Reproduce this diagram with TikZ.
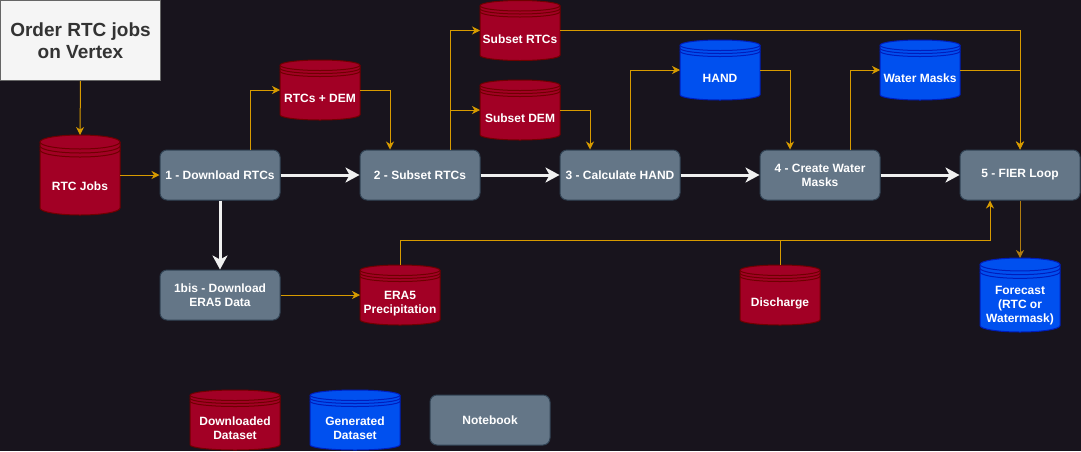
\documentclass[tikz,border=0pt]{standalone}
\usepackage{fontspec}
\setmainfont{Liberation Sans}
\usetikzlibrary{arrows.meta}
\definecolor{bgcol}{HTML}{18141D}
\definecolor{redfill}{HTML}{A20025}
\definecolor{redstroke}{HTML}{6F0000}
\definecolor{bluefill}{HTML}{0050EF}
\definecolor{bluestroke}{HTML}{001DBC}
\definecolor{boxfill}{HTML}{647687}
\definecolor{boxstroke}{HTML}{314354}
\definecolor{titlefill}{HTML}{F5F5F5}
\definecolor{titlestroke}{HTML}{666666}
\definecolor{titletext}{HTML}{333333}
\definecolor{orangeline}{HTML}{D79B00}
\definecolor{darkorange}{HTML}{B07D10}
\definecolor{whiteline}{HTML}{F0F0F0}
\tikzset{
  flowbox/.style={rectangle, rounded corners=7pt, draw=boxstroke, fill=boxfill, line width=1pt,
    minimum width=120pt, minimum height=50pt, text=white,
    font=\bfseries\fontsize{12}{14}\selectfont, align=center, inner sep=2pt},
  redstore/.style={draw=redstroke, fill=redfill, line width=1pt},
  bluestore/.style={draw=bluestroke, fill=bluefill, line width=1pt},
  dbtext/.style={text=white, font=\bfseries\fontsize{12}{14}\selectfont, align=center, inner sep=0pt},
  flowarrow/.style={draw=orangeline, line width=1pt, -{Stealth[length=8pt,width=8pt,inset=2.5pt]}},
  flowline/.style={draw=orangeline, line width=1pt},
  mainarrow/.style={draw=whiteline, line width=3pt, -{Stealth[length=14pt,width=15pt,inset=4pt]}},
}
% #1 name, #2 x0, #3 y0, #4 w, #5 h, #6 style, #7 text
\newcommand\dbnode[7]{%
  \pgfmathsetmacro\dxa{#2}\pgfmathsetmacro\dxb{#2+#4}\pgfmathsetmacro\dxc{#2+#4/2}%
  \pgfmathsetmacro\dya{#3}\pgfmathsetmacro\dyb{#3+#5}%
  \pgfmathsetmacro\dry{0.0875*#5}\pgfmathsetmacro\dkx{0.5523*#4/2}\pgfmathsetmacro\dky{0.5523*\dry}%
  \pgfmathsetmacro\dst{0.05*#5}%
  \node[minimum width=#4pt, minimum height=#5pt, inner sep=0pt, outer sep=0pt] (#1) at (\dxc, #3+#5/2) {};
  \draw[#6] (\dxa,\dya+\dry) .. controls (\dxa,\dya+\dry-\dky) and (\dxc-\dkx,\dya) .. (\dxc,\dya)
    .. controls (\dxc+\dkx,\dya) and (\dxb,\dya+\dry-\dky) .. (\dxb,\dya+\dry)
    -- (\dxb,\dyb-\dry) .. controls (\dxb,\dyb-\dry+\dky) and (\dxc+\dkx,\dyb) .. (\dxc,\dyb)
    .. controls (\dxc-\dkx,\dyb) and (\dxa,\dyb-\dry+\dky) .. (\dxa,\dyb-\dry) -- cycle;
  \foreach \k in {0,1,2}{%
    \draw[#6,fill=none] (\dxa,\dya+\dry+\k*\dst) .. controls (\dxa,\dya+\dry+\k*\dst+\dky) and (\dxc-\dkx,\dya+2*\dry+\k*\dst) .. (\dxc,\dya+2*\dry+\k*\dst)
      .. controls (\dxc+\dkx,\dya+2*\dry+\k*\dst) and (\dxb,\dya+\dry+\k*\dst+\dky) .. (\dxb,\dya+\dry+\k*\dst);
  }
  \node[dbtext] (#1-t) at (\dxc, #3+0.64*#5) {#7};
}
\begin{document}
\begin{tikzpicture}[x=1pt,y=-1pt]
\fill[bgcol] (0,0) rectangle (1081,451);
\useasboundingbox (0,0) rectangle (1081,451);

% title
\node[draw=titlestroke, fill=titlefill, line width=1pt, minimum width=160pt, minimum height=80pt,
  text=titletext, font=\bfseries\fontsize{19}{22}\selectfont, align=center, inner sep=0pt]
  (title) at (80.5,40.5) {Order RTC jobs\\on Vertex};

% data stores
\dbnode{rtcjobs}{40}{135}{80}{80}{redstore}{RTC Jobs}
\dbnode{rtcdem}{280}{60}{80}{60}{redstore}{RTCs + DEM}
\dbnode{srtc}{480}{0.5}{80}{60}{redstore}{Subset RTCs}
\dbnode{sdem}{480}{80}{80}{60}{redstore}{Subset DEM}
\dbnode{hand}{680}{40}{80}{60}{bluestore}{HAND}
\dbnode{wmask}{880}{40}{80}{60}{bluestore}{Water Masks}
\dbnode{era}{360}{265}{80}{60}{redstore}{ERA5\\Precipitation}
\dbnode{dis}{740}{265}{80}{60}{redstore}{Discharge}
\dbnode{fcst}{980}{258}{80}{74}{bluestore}{Forecast\\(RTC or\\Watermask)}
\dbnode{leg1}{190}{390}{90}{60}{redstore}{Downloaded\\Dataset}
\dbnode{leg2}{310}{390}{90}{60}{bluestore}{Generated\\Dataset}

% notebooks
\node[flowbox] (b1) at (220,175) {1 - Download RTCs};
\node[flowbox] (b2) at (420,175) {2 - Subset RTCs};
\node[flowbox] (b3) at (620,175) {3 - Calculate HAND};
\node[flowbox] (b4) at (820,175) {4 - Create Water\\Masks};
\node[flowbox] (b5) at (1020,175) {5 - FIER Loop};
\node[flowbox] (b1bis) at (220,295) {1bis - Download\\ERA5 Data};
\node[flowbox] (nb) at (490,420) {Notebook};

% main flow
\draw[mainarrow] (b1.east) -- (b2.west);
\draw[mainarrow] (b2.east) -- (b3.west);
\draw[mainarrow] (b3.east) -- (b4.west);
\draw[mainarrow] (b4.east) -- (b5.west);
\draw[mainarrow] (b1.south) -- (b1bis.north);

% data flow
\draw[flowarrow] (title.south) -- (rtcjobs.north);
\draw[flowarrow] (rtcjobs.east) -- (b1.west);
\draw[flowarrow] ([xshift=30pt]b1.north) |- (rtcdem.west);
\draw[flowarrow] (rtcdem.east) -| ([xshift=-30pt]b2.north);
\draw[flowarrow] ([xshift=30pt]b2.north) |- (srtc.west);
\draw[flowarrow] ([xshift=30pt]b2.north) |- (sdem.west);
\draw[flowarrow] (sdem.east) -| ([xshift=-30pt]b3.north);
\draw[flowarrow] (srtc.east) -| (b5.north);
\draw[flowarrow] ([xshift=10pt]b3.north) |- (hand.west);
\draw[flowarrow] (hand.east) -| ([xshift=-30pt]b4.north);
\draw[flowarrow] ([xshift=30pt]b4.north) |- (wmask.west);
\draw[flowarrow] (wmask.east) -| (b5.north);
\draw[flowarrow, draw=darkorange] (b5.south) -- (fcst.north);
\draw[flowarrow] (b1bis.east) -- (era.west);
\coordinate (junc) at (990,240);
\draw[flowarrow] (era.north) |- (junc) -- ([xshift=-30pt]b5.south);
\draw[flowline] (dis.north) -- (dis.north |- junc);
\end{tikzpicture}
\end{document}
